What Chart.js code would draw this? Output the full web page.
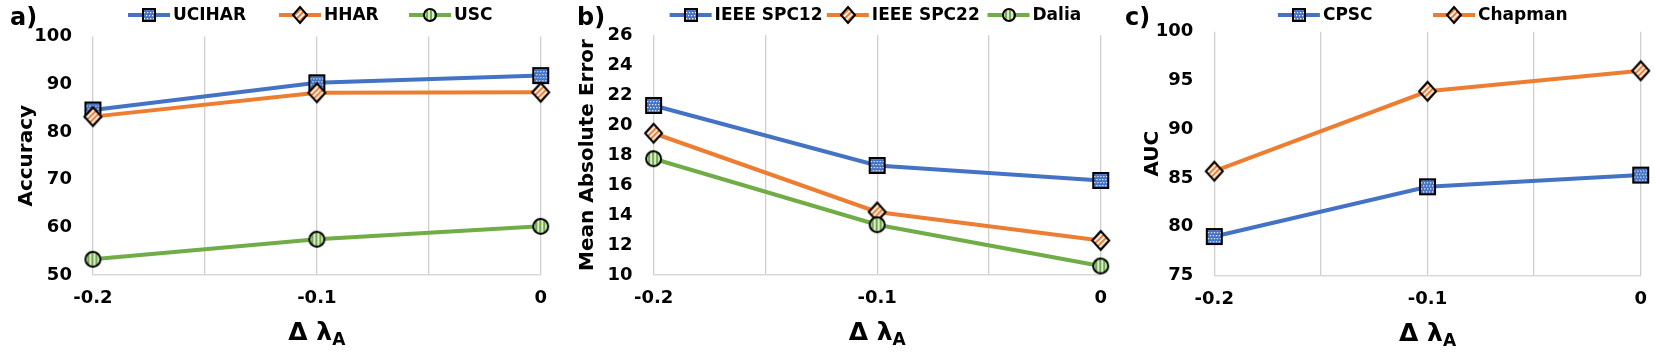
<!DOCTYPE html>
<html>
<head>
<meta charset="utf-8">
<script src="https://cdn.jsdelivr.net/npm/chart.js@4.4.1/dist/chart.umd.min.js"></script>
<style>
  body { margin: 0; background: #fff; }
  #wrap { position: relative; width: 1660px; height: 353px; overflow: hidden; }
  #wrap canvas { position: absolute; top: 0; }
</style>
</head>
<body>
<div id="wrap">
  <canvas id="chartA" width="560" height="353" style="left:0px"></canvas>
  <canvas id="chartB" width="570" height="353" style="left:550px"></canvas>
  <canvas id="chartC" width="550" height="353" style="left:1110px"></canvas>
</div>
<script>
// x axis (shared by the three panels)
var xValues = [-0.2, -0.1, 0];
var xTickLabels = ['-0.2', '-0.1', '0'];

// a) activity recognition accuracy
var harNames = ['UCIHAR', 'HHAR', 'USC'];
var ucihar = [84.6, 90.3, 91.8];
var hhar = [83.2, 88.2, 88.3];
var usc = [53.3, 57.5, 60.2];
var accTicks = [50, 100, 10];   // min, max, step

// b) heart rate mean absolute error
var ppgNames = ['IEEE SPC12', 'IEEE SPC22', 'Dalia'];
var spc12 = [21.3, 17.3, 16.3];
var spc22 = [19.45, 14.2, 12.3];
var dalia = [17.75, 13.35, 10.6];
var maeTicks = [10, 26, 2];

// c) ECG AUC
var ecgNames = ['CPSC', 'Chapman'];
var cpsc = [79.0, 84.1, 85.3];
var chapman = [85.7, 93.9, 96.0];
var aucTicks = [75, 100, 5];

var FONT = 'DejaVu Sans';
var BLUE = '#4472C4', ORANGE = '#ED7D31', GREEN = '#70AD47';
Chart.defaults.font.family = FONT;
Chart.defaults.color = '#000';

// marker pictures (Excel style patterned markers)
function makeMarker(shape, color, size) {
  var w = size, h = size;
  if (shape == 'diamond') { w = size + 2; h = size + 4; }
  var c = document.createElement('canvas');
  c.width = w + 2; c.height = h + 2;
  var g = c.getContext('2d');
  var cx = c.width / 2, cy = c.height / 2;
  function outline() {
    g.beginPath();
    if (shape == 'square') {
      g.rect(cx - w / 2 + 1, cy - h / 2 + 1, w - 2, h - 2);
    } else if (shape == 'diamond') {
      g.moveTo(cx, cy - h / 2 + 1);
      g.lineTo(cx + w / 2 - 1, cy);
      g.lineTo(cx, cy + h / 2 - 1);
      g.lineTo(cx - w / 2 + 1, cy);
      g.closePath();
    } else {
      g.arc(cx, cy, size / 2 - 1, 0, Math.PI * 2);
    }
  }
  outline();
  g.fillStyle = color;
  g.fill();
  g.save();
  g.clip();
  g.fillStyle = '#fff';
  g.strokeStyle = '#fff';
  if (shape == 'square') {
    for (var yy = 2; yy < c.height; yy += 3) {
      for (var xx = 2 + (yy % 2); xx < c.width; xx += 3) g.fillRect(xx, yy, 1.2, 1.2);
    }
  } else if (shape == 'diamond') {
    g.lineWidth = 1.6;
    for (var k = -c.height; k < c.width + c.height; k += 5.5) {
      g.beginPath(); g.moveTo(k, c.height); g.lineTo(k + c.height, 0); g.stroke();
    }
  } else {
    g.lineWidth = 1.5;
    for (var s = 3; s < c.width; s += 4) {
      g.beginPath(); g.moveTo(s, 0); g.lineTo(s, c.height); g.stroke();
    }
  }
  g.restore();
  outline();
  g.lineWidth = 2;
  g.strokeStyle = '#000';
  g.lineJoin = 'miter';
  g.stroke();
  return c;
}

var markers = {
  square: [makeMarker('square', BLUE, 17), makeMarker('square', BLUE, 14)],
  diamond: [makeMarker('diamond', ORANGE, 17), makeMarker('diamond', ORANGE, 14)],
  circle: [makeMarker('circle', GREEN, 17), makeMarker('circle', GREEN, 14)]
};

// panel letter, legend and the x title with its subscript
var decor = {
  id: 'decor',
  afterDraw: function(chart, args, o) {
    var ctx = chart.ctx, area = chart.chartArea;
    ctx.save();
    ctx.fillStyle = '#000';
    ctx.textAlign = 'left';
    ctx.textBaseline = 'alphabetic';
    ctx.font = 'bold 24px "' + FONT + '"';
    ctx.fillText(o.panel, o.panelX, 25);

    chart.data.datasets.forEach(function(ds, i) {
      var x0 = o.legendX[i], y = 15;
      ctx.strokeStyle = ds.borderColor;
      ctx.lineWidth = 4;
      ctx.beginPath(); ctx.moveTo(x0, y); ctx.lineTo(x0 + 42, y); ctx.stroke();
      var m = ds.legendMarker;
      ctx.drawImage(m, Math.round(x0 + 21 - m.width / 2), Math.round(y - m.height / 2));
      ctx.font = 'bold 17px "' + FONT + '"';
      ctx.textBaseline = 'middle';
      ctx.fillText(ds.label, x0 + 45, y + 1);
    });

    var cx = (area.left + area.right) / 2, by = area.bottom + 65;
    ctx.textBaseline = 'alphabetic';
    ctx.font = 'bold 25px "' + FONT + '"';
    var w1 = ctx.measureText('Δ λ').width;
    ctx.font = 'bold 17px "' + FONT + '"';
    var w2 = ctx.measureText('A').width;
    var x = cx - (w1 + w2) / 2;
    ctx.font = 'bold 25px "' + FONT + '"';
    ctx.fillText('Δ λ', x, by);
    ctx.font = 'bold 17px "' + FONT + '"';
    ctx.fillText('A', x + w1, by + 5);
    ctx.restore();
  }
};

function series(name, values, color, shape, i) {
  return {
    label: name,
    data: values.map(function(v, j) { return { x: xValues[j], y: v }; }),
    borderColor: color,
    backgroundColor: color,
    borderWidth: 4,
    pointStyle: markers[shape][0],
    legendMarker: markers[shape][1],
    pointRadius: 8,
    pointBorderWidth: 0,
    tension: 0,
    clip: false,
    order: -i
  };
}

function panel(id, cfg) {
  return new Chart(document.getElementById(id), {
    type: 'line',
    data: { datasets: cfg.datasets },
    options: {
      responsive: false,
      animation: false,
      events: [],
      layout: { padding: cfg.pad },
      plugins: {
        legend: { display: false },
        tooltip: { enabled: false },
        decor: { panel: cfg.panel, panelX: cfg.panelX, legendX: cfg.legendX }
      },
      scales: {
        x: {
          type: 'linear',
          min: xValues[0],
          max: xValues[xValues.length - 1],
          afterFit: function(s) { s.height = 40; },
          grid: { color: '#cfcfcf', lineWidth: 1.3, drawTicks: false },
          border: { display: true, color: '#d9d9d9', width: 1.5 },
          ticks: {
            stepSize: 0.05,
            autoSkip: false,
            maxRotation: 0,
            padding: 13,
            font: { size: 18, weight: 'bold' },
            callback: function(v) {
              for (var i = 0; i < xValues.length; i++) {
                if (Math.abs(xValues[i] - v) < 1e-6) return xTickLabels[i];
              }
              return '';
            }
          }
        },
        y: {
          min: cfg.ticks[0],
          max: cfg.ticks[1],
          afterFit: function(s) { s.width = cfg.yWidth; },
          grid: { display: false, drawTicks: false },
          border: { display: false },
          ticks: { stepSize: cfg.ticks[2], padding: 21, font: { size: 18, weight: 'bold' } },
          title: {
            display: true,
            text: cfg.yTitle,
            font: { size: 20, weight: 'bold' },
            padding: { top: cfg.titlePad, bottom: 0 }
          }
        }
      }
    },
    plugins: [decor]
  });
}

panel('chartA', {
  datasets: [
    series(harNames[0], ucihar, BLUE, 'square', 0),
    series(harNames[1], hhar, ORANGE, 'diamond', 1),
    series(harNames[2], usc, GREEN, 'circle', 2)
  ],
  ticks: accTicks, yTitle: 'Accuracy', panel: 'a)', panelX: 10,
  legendX: [128, 279, 409],
  pad: { left: 0, right: 16, top: 36.5, bottom: 38 }, yWidth: 92.9, titlePad: 14.8
});

panel('chartB', {
  datasets: [
    series(ppgNames[0], spc12, BLUE, 'square', 0),
    series(ppgNames[1], spc22, ORANGE, 'diamond', 1),
    series(ppgNames[2], dalia, GREEN, 'circle', 2)
  ],
  ticks: maeTicks, yTitle: 'Mean Absolute Error', panel: 'b)', panelX: 27,
  legendX: [119.6, 276.8, 437.5],
  pad: { left: 0, right: 12.9, top: 35, bottom: 38 }, yWidth: 103.6, titlePad: 25.5
});

panel('chartC', {
  datasets: [
    series(ecgNames[0], cpsc, BLUE, 'square', 0),
    series(ecgNames[1], chapman, ORANGE, 'diamond', 1)
  ],
  ticks: aucTicks, yTitle: 'AUC', panel: 'c)', panelX: 15,
  legendX: [167.9, 323],
  pad: { left: 0, right: 14.3, top: 27, bottom: 37.5 }, yWidth: 104.3, titlePad: 31
});
</script>
</body>
</html>
